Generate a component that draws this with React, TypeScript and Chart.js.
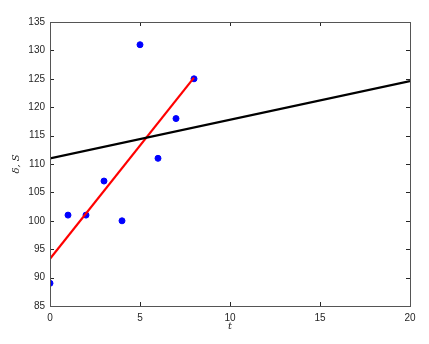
import React, { useEffect, useRef } from "react";
import { Chart, registerables } from "chart.js";

Chart.register(...registerables);

const tValues = [0, 1, 2, 3, 4, 5, 6, 7, 8];
const sValues = [89, 101, 101, 107, 100, 131, 111, 118, 125];
const redT = [0, 8];
const redS = [93.3, 125.2];
const blackT = [0, 20];
const blackS = [111, 124.6];
const xTicks = [0, 5, 10, 15, 20];
const yTicks = [85, 90, 95, 100, 105, 110, 115, 120, 125, 130, 135];

const boxPlugin = {
  id: "boxTicks",
  afterDatasetsDraw(chart: any) {
    const { ctx, chartArea, scales } = chart;
    const { left, right, top, bottom } = chartArea;
    const len = 4;
    ctx.save();
    ctx.strokeStyle = "#262626";
    ctx.lineWidth = 1;
    ctx.beginPath();
    for (const v of xTicks) {
      const px = Math.round(scales.x.getPixelForValue(v)) + 0.5;
      ctx.moveTo(px, bottom);
      ctx.lineTo(px, bottom - len);
      ctx.moveTo(px, top);
      ctx.lineTo(px, top + len);
    }
    for (const v of yTicks) {
      const py = Math.round(scales.y.getPixelForValue(v)) + 0.5;
      ctx.moveTo(left, py);
      ctx.lineTo(left + len, py);
      ctx.moveTo(right, py);
      ctx.lineTo(right - len, py);
    }
    ctx.stroke();
    ctx.strokeStyle = "#555555";
    ctx.strokeRect(Math.round(left) + 0.5, Math.round(top) + 0.5, Math.round(right - left), Math.round(bottom - top));
    ctx.restore();
  },
};

export default function App() {
  const ref = useRef<HTMLCanvasElement | null>(null);
  useEffect(() => {
    document.body.style.margin = "0";
    const canvas = ref.current;
    if (!canvas) return;
    const chart = new Chart(canvas, {
      type: "scatter",
      data: {
        datasets: [
          {
            data: tValues.map((t, i) => ({ x: t, y: sValues[i] })),
            backgroundColor: "#0000ff",
            borderColor: "#0000ff",
            pointRadius: 3,
            showLine: false,
            order: 3,
          },
          {
            data: redT.map((t, i) => ({ x: t, y: redS[i] })),
            borderColor: "#ff0000",
            borderWidth: 2.2,
            pointRadius: 0,
            showLine: true,
            order: 2,
          },
          {
            data: blackT.map((t, i) => ({ x: t, y: blackS[i] })),
            borderColor: "#000000",
            borderWidth: 2.2,
            pointRadius: 0,
            showLine: true,
            order: 1,
          },
        ],
      },
      options: {
        animation: false,
        responsive: false,
        layout: { padding: { top: 22, right: 19, left: 0, bottom: 0 } },
        plugins: { legend: { display: false }, tooltip: { enabled: false } },
        scales: {
          x: {
            type: "linear",
            min: 0,
            max: 20,
            afterFit: (s: any) => { s.height = 38; },
            afterBuildTicks: (s: any) => { s.ticks = xTicks.map((v) => ({ value: v })); },
            grid: { display: false, drawTicks: false },
            border: { display: false },
            ticks: {
              padding: 6,
              color: "#262626",
              font: { family: "Liberation Sans", size: 10 },
              maxRotation: 0,
            },
            title: {
              display: true,
              text: "t",
              color: "#262626",
              padding: { top: 0, bottom: 12 },
              font: { family: "DejaVu Serif", style: "italic", size: 10 },
            },
          },
          y: {
            type: "linear",
            min: 85,
            max: 135,
            afterFit: (s: any) => { s.width = 50; },
            afterBuildTicks: (s: any) => { s.ticks = yTicks.map((v) => ({ value: v })); },
            grid: { display: false, drawTicks: false },
            border: { display: false },
            ticks: {
              padding: 5,
              color: "#262626",
              font: { family: "Liberation Sans", size: 10 },
            },
            title: {
              display: true,
              text: "δ, S",
              color: "#262626",
              padding: { top: 10, bottom: 0 },
              font: { family: "DejaVu Serif", style: "italic", size: 10 },
            },
          },
        },
      },
      plugins: [boxPlugin],
    } as any);
    return () => chart.destroy();
  }, []);
  return (
    <div style={{ width: 429, height: 344, background: "#fff" }}>
      <canvas ref={ref} width={429} height={344} />
    </div>
  );
}
